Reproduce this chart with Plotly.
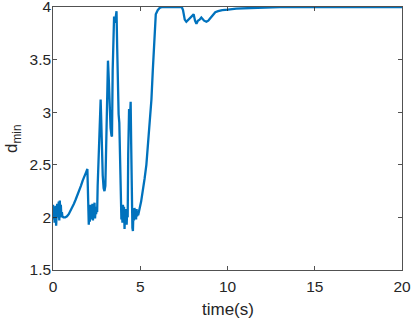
import plotly.graph_objects as go

# time (s)
t = [0, 0.03, 0.06, 0.09, 0.12, 0.15, 0.18, 0.21, 0.24, 0.27, 0.30, 0.33, 0.36, 0.39,
     0.42, 0.45, 0.48, 0.51, 0.54,
     0.6, 0.7, 0.8, 0.9, 1.0, 1.1, 1.2, 1.3, 1.4, 1.5, 1.6, 1.7, 1.8, 1.9, 1.97,
     2.02, 2.05, 2.08, 2.11, 2.14, 2.17, 2.20, 2.23, 2.26, 2.29, 2.32, 2.35, 2.38,
     2.41, 2.44, 2.47, 2.50, 2.53,
     2.56, 2.59, 2.62, 2.66, 2.70, 2.73, 2.76, 2.80, 2.85, 2.90, 2.95, 3.00, 3.05,
     3.10, 3.15, 3.20, 3.25, 3.30, 3.35, 3.38, 3.42, 3.46, 3.50, 3.55, 3.60, 3.64,
     3.68, 3.72, 3.76, 3.80, 3.84, 3.88, 3.92, 3.95, 3.98, 4.01, 4.04, 4.07, 4.10,
     4.13, 4.16, 4.19, 4.22, 4.25, 4.28, 4.31, 4.36, 4.39, 4.42, 4.45, 4.48, 4.51,
     4.55, 4.58, 4.61, 4.64, 4.67, 4.70, 4.73, 4.76, 4.79, 4.82, 4.85, 4.88, 4.92,
     4.97, 5.05, 5.15, 5.25, 5.35, 5.45, 5.55, 5.64, 5.72, 5.80, 5.89, 6.0, 6.11,
     6.25, 7.0, 7.38, 7.45, 7.55, 7.64, 7.75, 7.85, 7.95, 8.06, 8.14, 8.22, 8.30,
     8.40, 8.50, 8.58, 8.66, 8.79, 8.90, 9.0, 9.17, 9.30, 9.46, 9.7, 10.03, 10.5,
     11.3, 12.0, 13.0, 20.0]

# minimum distance d_min
d = [2.12, 1.98, 2.10, 1.95, 2.08, 2.11, 1.92, 2.06, 2.13, 2.00, 2.09, 2.15, 1.97, 2.16,
     2.03, 2.12, 2.00, 2.05, 2.01,
     2.00, 2.00, 2.01, 2.03, 2.06, 2.09, 2.13, 2.17, 2.21, 2.25, 2.30, 2.35, 2.40, 2.43, 2.46,
     2.10, 1.93, 2.08, 1.96, 2.12, 1.98, 2.10, 2.00, 2.13, 1.97, 2.09, 2.02, 2.14,
     1.99, 2.08, 2.03, 2.10, 2.05,
     2.30, 2.45, 2.46, 2.70, 3.00, 3.12, 2.95, 2.65, 2.40, 2.28, 2.25, 2.30, 2.70,
     3.20, 3.49, 3.30, 3.05, 2.85, 2.78, 2.77, 3.40, 3.88, 3.91, 3.85, 3.94, 3.96,
     3.60, 3.10, 2.98, 2.90, 2.55, 2.20, 1.98, 2.08, 1.95, 2.12, 1.98, 2.10, 1.89,
     2.05, 1.96, 2.08, 1.93, 2.06, 2.00, 2.60, 3.03, 2.85, 3.05, 3.10, 2.70, 2.20,
     1.90, 1.87, 2.05, 1.97, 2.09, 1.99, 2.07, 1.98, 2.08, 2.01, 2.06, 2.02, 2.07,
     2.09, 2.15, 2.25, 2.37, 2.50, 2.70, 2.93, 3.12, 3.40, 3.70, 3.93, 3.97, 3.99,
     4.0, 4.0, 4.0, 3.97, 3.88, 3.86, 3.88, 3.90, 3.91, 3.93, 3.87, 3.84, 3.87,
     3.88, 3.90, 3.88, 3.87, 3.86, 3.87, 3.89, 3.93, 3.95, 3.96, 3.97, 3.975, 3.985,
     3.99, 3.997, 4.0, 4.0]

x_ticks = [0, 5, 10, 15, 20]
y_ticks = [1.5, 2, 2.5, 3, 3.5, 4]
y_tick_text = ["1.5", "2", "2.5", "3", "3.5", "4"]

fig = go.Figure()
fig.add_trace(go.Scatter(x=t, y=d, mode="lines",
                         line=dict(color="#0072BD", width=2.3),
                         showlegend=False, cliponaxis=True, hoverinfo="skip"))

axis_common = dict(showgrid=False, zeroline=False, showline=True, linecolor="#262626",
                   linewidth=0.8, mirror="ticks", ticks="inside", ticklen=4,
                   tickcolor="#262626", tickwidth=0.8, ticklabeloverflow="allow",
                   tickfont=dict(family="Liberation Sans, Arial", size=15.5, color="#262626"))

fig.update_xaxes(range=[0, 20], tickvals=x_ticks, ticklabelstandoff=3, **axis_common)
fig.update_yaxes(range=[1.5, 4], tickvals=y_ticks, ticktext=y_tick_text,
                 ticklabelstandoff=-2, **axis_common)

fig.add_annotation(text="time(s)", xref="paper", yref="paper", x=0.5, y=-0.152,
                   xanchor="center", yanchor="middle", showarrow=False,
                   font=dict(family="Liberation Sans, Arial", size=17, color="#262626"))
fig.add_annotation(text="d<sub>min</sub>", xref="paper", yref="paper", x=-0.116, y=0.5,
                   xanchor="center", yanchor="middle", showarrow=False, textangle=-90,
                   font=dict(family="Liberation Sans, Arial", size=17, color="#262626"))

fig.update_layout(width=411, height=319, margin=dict(l=53, r=9, t=7, b=49, autoexpand=False),
                  plot_bgcolor="white", paper_bgcolor="white")

fig.write_html("out.html", config={"displayModeBar": False, "staticPlot": True},
               post_script="document.body.style.margin='0';document.body.style.overflow='hidden';")
